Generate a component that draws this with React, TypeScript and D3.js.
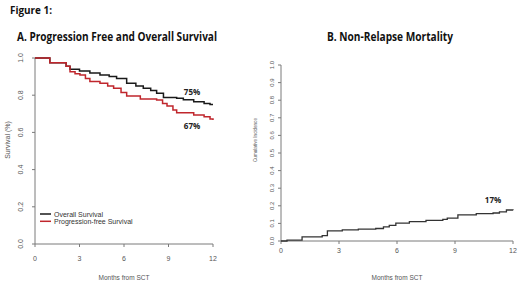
import React from "react";
import * as d3 from "d3";

const osMonths = [0, 1.0, 2.1, 2.36, 3.0, 3.7, 4.38, 5.0, 5.5, 6.18, 6.8, 7.3, 7.8, 8.2, 8.66, 9.55, 10.0, 10.7, 11.4, 11.8, 12];
const osValues = [1.0, 0.975, 0.955, 0.94, 0.93, 0.92, 0.909, 0.9, 0.89, 0.864, 0.85, 0.837, 0.825, 0.81, 0.787, 0.783, 0.775, 0.765, 0.756, 0.75, 0.75];
const pfsMonths = [0, 1.0, 2.1, 2.36, 2.7, 3.03, 3.4, 3.7, 4.38, 4.9, 5.3, 5.8, 6.18, 7.1, 8.2, 8.6, 8.9, 9.3, 9.55, 10.7, 11.4, 11.8, 12];
const pfsValues = [1.0, 0.975, 0.955, 0.926, 0.915, 0.909, 0.89, 0.873, 0.864, 0.85, 0.837, 0.815, 0.796, 0.78, 0.774, 0.755, 0.742, 0.72, 0.706, 0.694, 0.684, 0.672, 0.667];
const nrmMonths = [0, 0.31, 1.09, 2.13, 2.4, 3.17, 4.0, 4.9, 5.3, 5.6, 5.94, 6.64, 7.5, 8.37, 8.6, 9.15, 10.1, 10.97, 11.3, 11.66, 12];
const nrmValues = [0, 0.005, 0.023, 0.03, 0.057, 0.063, 0.068, 0.071, 0.08, 0.089, 0.102, 0.11, 0.117, 0.123, 0.13, 0.149, 0.155, 0.159, 0.165, 0.176, 0.175];
const xTicks = [0, 3, 6, 9, 12];
const leftYTicks = [0, 0.2, 0.4, 0.6, 0.8, 1.0];
const rightYTicks = [0, 0.1, 0.2, 0.3, 0.4, 0.5, 0.6, 0.7, 0.8, 0.9, 1.0];
const legendLabels = ["Overall Survival", "Progression-free Survival"];
const seriesColors = ["#1a1a1a", "#c0262c"];

const AXIS = "#7a7a7a";
const TXT = "#555";
const SANS = "'Liberation Sans', Arial, sans-serif";
const TITLE = "'Open Sans', 'Noto Sans', sans-serif";

function pts(xs: number[], ys: number[]) {
  return xs.map((x, i) => [x, ys[i]] as [number, number]);
}

export default function App() {
  const lx = d3.scaleLinear().domain([0, 12]).range([35, 213]);
  const ly = d3.scaleLinear().domain([0, 1]).range([244, 58]);
  const rx = d3.scaleLinear().domain([0, 12]).range([281, 513]);
  const ry = d3.scaleLinear().domain([0, 1]).range([241, 65]);

  const lineL = d3.line<[number, number]>().x(d => lx(d[0])).y(d => ly(d[1])).curve(d3.curveStepAfter);
  const lineR = d3.line<[number, number]>().x(d => rx(d[0])).y(d => ry(d[1])).curve(d3.curveStepAfter);

  return (
    <div style={{ position: "absolute", left: 0, top: 0 }}>
      <svg width={520} height={284} style={{ display: "block", background: "#fff" }}>
        <text x={10} y={14} fontFamily={TITLE} fontWeight="bold" fontSize={11} fill="#111" textLength={42} lengthAdjust="spacingAndGlyphs">Figure 1:</text>
        <text x={17} y={41} fontFamily={TITLE} fontWeight="bold" fontSize={12} fill="#111" textLength={200} lengthAdjust="spacingAndGlyphs">A.  Progression Free and Overall Survival</text>
        <text x={327} y={41} fontFamily={TITLE} fontWeight="bold" fontSize={12} fill="#111" textLength={126} lengthAdjust="spacingAndGlyphs">B.  Non-Relapse Mortality</text>

        {/* Left panel axes */}
        <line x1={lx(0)} x2={lx(0)} y1={ly(0)} y2={ly(1)} stroke={AXIS} strokeWidth={1} />
        <line x1={lx(0)} x2={lx(12)} y1={ly(0)} y2={ly(0)} stroke={AXIS} strokeWidth={1} />
        {leftYTicks.map(t => (
          <g key={"ly" + t}>
            <line x1={lx(0) - 3} x2={lx(0)} y1={ly(t)} y2={ly(t)} stroke={AXIS} />
            <text transform={`translate(23,${ly(t)}) rotate(-90)`} textAnchor="middle" fontFamily={SANS} fontSize={7} fill={TXT}>{t.toFixed(1)}</text>
          </g>
        ))}
        {xTicks.map(t => (
          <g key={"lx" + t}>
            <line x1={lx(t)} x2={lx(t)} y1={ly(0)} y2={ly(0) + 3} stroke={AXIS} />
            <text x={lx(t)} y={261} textAnchor="middle" fontFamily={SANS} fontSize={7} fill={TXT}>{t}</text>
          </g>
        ))}
        <text x={124} y={280} textAnchor="middle" fontFamily={SANS} fontSize={6.5} fill={TXT}>Months from SCT</text>
        <text transform="translate(10,140) rotate(-90)" textAnchor="middle" fontFamily={SANS} fontSize={7} fill={TXT}>Survival (%)</text>

        <path d={lineL(pts(osMonths, osValues)) || ""} fill="none" stroke={seriesColors[0]} strokeWidth={1.5} />
        <path d={lineL(pts(pfsMonths, pfsValues)) || ""} fill="none" stroke={seriesColors[1]} strokeWidth={1.5} />
        <text x={192} y={94.5} textAnchor="middle" fontFamily={TITLE} fontWeight="bold" fontSize={8} fill="#222">75%</text>
        <text x={192} y={128.5} textAnchor="middle" fontFamily={TITLE} fontWeight="bold" fontSize={8} fill="#222">67%</text>

        {legendLabels.map((l, i) => (
          <g key={l}>
            <line x1={40} x2={51} y1={214 + i * 7.3} y2={214 + i * 7.3} stroke={seriesColors[i]} strokeWidth={1.5} />
            <text x={54} y={216.5 + i * 7.3} fontFamily={SANS} fontSize={7} fill="#333">{l}</text>
          </g>
        ))}

        {/* Right panel axes */}
        <line x1={rx(0)} x2={rx(0)} y1={ry(0)} y2={ry(1)} stroke={AXIS} strokeWidth={1} />
        <line x1={rx(0)} x2={rx(12)} y1={ry(0)} y2={ry(0)} stroke={AXIS} strokeWidth={1} />
        {rightYTicks.map(t => (
          <g key={"ry" + t}>
            <line x1={rx(0) - 3} x2={rx(0)} y1={ry(t)} y2={ry(t)} stroke={AXIS} />
            <text transform={`translate(274,${ry(t)}) rotate(-90)`} textAnchor="middle" fontFamily={SANS} fontSize={6} fill={TXT}>{t.toFixed(1)}</text>
          </g>
        ))}
        {xTicks.map(t => (
          <g key={"rx" + t}>
            <line x1={rx(t)} x2={rx(t)} y1={ry(0)} y2={ry(0) + 3} stroke={AXIS} />
            <text x={rx(t)} y={253} textAnchor="middle" fontFamily={SANS} fontSize={7} fill={TXT}>{t}</text>
          </g>
        ))}
        <text x={397} y={280} textAnchor="middle" fontFamily={SANS} fontSize={6.5} fill={TXT}>Months from SCT</text>
        <text transform="translate(257,140) rotate(-90)" textAnchor="middle" fontFamily={SANS} fontSize={4.6} fill={TXT}>Cumulative Incidence</text>

        <path d={lineR(pts(nrmMonths, nrmValues)) || ""} fill="none" stroke="#333" strokeWidth={1.3} />
        <text x={493} y={203} textAnchor="middle" fontFamily={TITLE} fontWeight="bold" fontSize={8} fill="#222">17%</text>
      </svg>
    </div>
  );
}
